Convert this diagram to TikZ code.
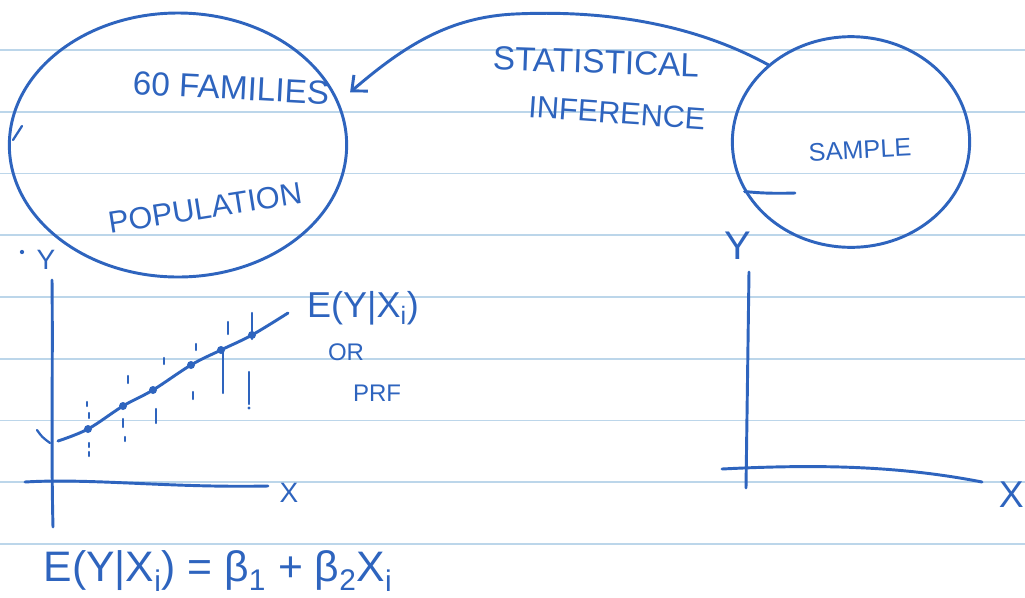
\documentclass[tikz,border=0pt]{standalone}
\usepackage{fontspec}
\setmainfont{Liberation Sans}
\usetikzlibrary{arrows.meta,shapes.geometric}

\begin{document}
\begin{tikzpicture}[
  x=0.75pt, y=-0.75pt,
  >={Straight Barb[length=9pt,width=16pt]},
  stroke/.style={draw=ink, line width=2.2pt, line cap=round, line join=round},
  thin stroke/.style={stroke, line width=1.7pt},
  hand/.style={text=ink, inner sep=0pt},
  blob/.style={ellipse, draw=ink, line width=2.2pt, inner sep=0pt},
  obs/.style={circle, fill=ink, minimum size=6pt, inner sep=0pt},
  rule/.style={draw=paperline, line width=1.3pt}
]

\definecolor{ink}{RGB}{46,100,190}
\definecolor{paperline}{RGB}{188,214,234}

\fill[white] (0,0) rectangle (1025,597);
\useasboundingbox (0,0) rectangle (1025,597);

% ruled paper
\foreach \k in {0,...,8}
  \draw[rule] (0,50+61.75*\k) -- (1025,50+61.75*\k);

% population and sample
\node[blob, minimum width=253pt, minimum height=198pt] (pop) at (178,145) {};
\node[blob, minimum width=178pt, minimum height=158pt] (samp) at (851,142) {};
\draw[stroke] (samp.205) .. controls (752,192) and (765,194) .. (795,193);
\draw[thin stroke] (13,140) -- (22,126);

\node[hand, font=\fontsize{25}{30}\selectfont, rotate=-3] (fam) at (231,88) {60 FAMILIES};
\node[hand, font=\fontsize{23}{28}\selectfont, rotate=9] (poplabel) at (205,208) {POPULATION};
\node[hand, font=\fontsize{19}{23}\selectfont, rotate=3] (samplabel) at (860,150) {SAMPLE};
\node[hand, font=\fontsize{25}{30}\selectfont, rotate=-2] (stat) at (596,62) {STATISTICAL};
\node[hand, font=\fontsize{23}{28}\selectfont, rotate=-4] (infer) at (617,113) {INFERENCE};

\draw[stroke, ->, shorten >=11pt] (samp.137) .. controls (690,22) and (600,10) .. (515,14)
  .. controls (450,17) and (405,45) .. (pop.15);

% left plot
\draw[stroke] (52,280) .. controls (53,360) and (51,450) .. (53,527);
\draw[stroke] (25,482) .. controls (90,478) and (170,488) .. (268,486);
\fill[ink] (22,252) circle (1.6pt);
\node[hand, font=\fontsize{21}{25}\selectfont] (ly) at (46,260) {Y};
\node[hand, font=\fontsize{21}{25}\selectfont] (lx) at (289,493) {X};

\draw[stroke] plot[smooth, tension=0.6] coordinates {(58,441) (88,429) (123,406) (153,390)
  (191,365) (221,350) (252,335) (288,313)};
\draw[thin stroke] (37,430) .. controls (42,437) .. (50,443);
\foreach \px/\py [count=\i] in {88/429,123/406,153/390,191/365,221/350,252/335}
  \node[obs] (o\i) at (\px,\py) {};
\foreach \tx/\ta/\tb in {87/402/406, 89/413/418, 89/443/447, 89/452/456,
    128/376/383, 123/419/427, 125/437/441, 164/358/364, 156/409/423,
    196/344/350, 193/392/399, 228/322/334, 223/352/393, 252/313/339, 249/372/404}
  \draw[thin stroke] (\tx,\ta) -- (\tx,\tb);
\fill[ink] (249,408) circle (1.2pt);

\node[hand, font=\fontsize{27}{32}\selectfont] (cef) at (363,308) {E(Y|X\textsubscript{i})};
\node[hand, font=\fontsize{18}{22}\selectfont] (orword) at (346,352) {OR};
\node[hand, font=\fontsize{18}{22}\selectfont] (prfword) at (377,393) {PRF};
\node[hand, font=\fontsize{32}{38}\selectfont] (eq) at (218,571)
  {E(Y|X\textsubscript{i}) = β\textsubscript{1} + β\textsubscript{2}X\textsubscript{i}};

% right plot
\draw[stroke] (749,272) -- (746,488);
\draw[stroke] (722,469) .. controls (820,464) and (900,466) .. (982,482);
\node[hand, font=\fontsize{30}{36}\selectfont] (ry) at (738,246) {Y};
\node[hand, font=\fontsize{28}{34}\selectfont, anchor=east] (rx) at (1024,495) {X};

\end{tikzpicture}
\end{document}
